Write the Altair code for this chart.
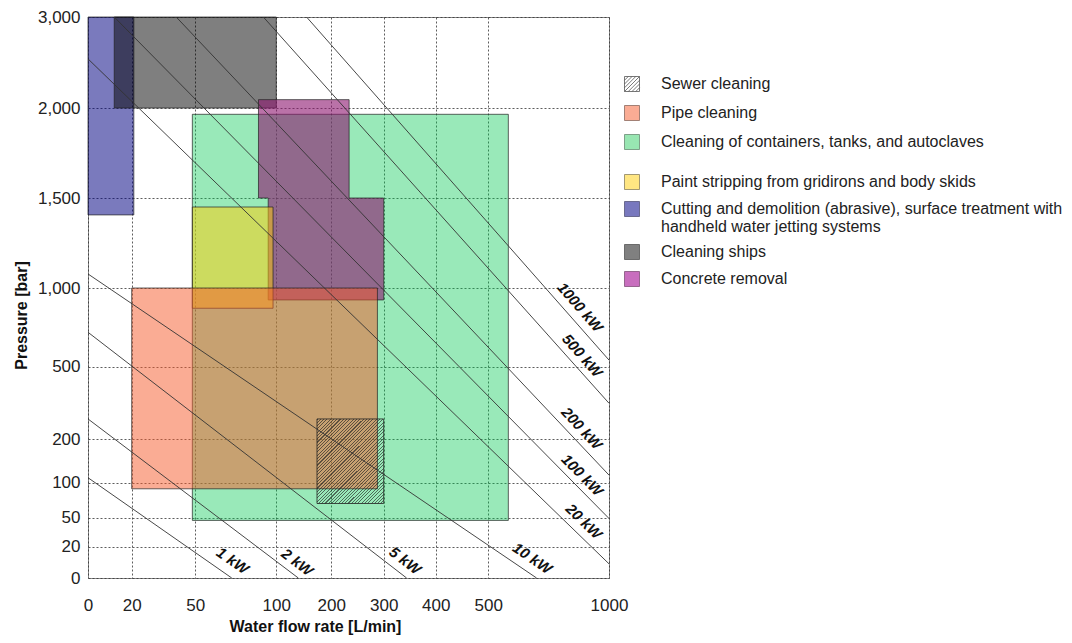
import altair as alt
import pandas as pd

FONT = "Liberation Sans"

# ---- axis ticks (nonlinear, piecewise scales) ----
X_TICKS = [0, 20, 50, 100, 200, 300, 400, 500, 1000]
X_RANGE = [0, 43.7, 107.3, 188.3, 243.3, 295.7, 347.7, 400.3, 521]
Y_TICKS = [0, 20, 50, 100, 200, 500, 1000, 1500, 2000, 3000]
Y_RANGE = [561, 529.5, 500.5, 465.5, 422, 349.5, 271, 181, 91, 0]

# ---- categories ----
SEWER = "Sewer cleaning"
PIPE = "Pipe cleaning"
CONT = "Cleaning of containers, tanks, and autoclaves"
PAINT = "Paint stripping from gridirons and body skids"
CUT = "Cutting and demolition (abrasive), surface treatment with\nhandheld water jetting systems"
SHIPS = "Cleaning ships"
CONC = "Concrete removal"

# ---- rectangular regions (flow L/min, pressure bar) ----
rect_a_names = [CONT, CUT, SHIPS]
rect_a_qmin = [48.6, 0, 12]
rect_a_qmax = [583, 21, 100]
rect_a_pmin = [47, 1406, 2000]
rect_a_pmax = [1965, 3000, 3000]
rect_a_color = ["#00c850", "#000080", "#000000"]
rect_a_alpha = [0.4, 0.52, 0.5]

# concrete removal: two filled parts + stepped outline
conc_qmin = [89, 95]
conc_qmax = [234, 300]
conc_pmin = [1500, 924]
conc_pmax = [2092, 1500]
conc_outline_q = [89, 234, 234, 300, 300, 95, 95, 89, 89]
conc_outline_p = [2092, 2092, 1500, 1500, 924, 924, 1500, 1500, 2092]

rect_b_names = [PAINT, PIPE]
rect_b_qmin = [48.6, 20]
rect_b_qmax = [98, 288]
rect_b_pmin = [871, 91]
rect_b_pmax = [1450, 1000]
rect_b_color = ["#ffcd05", "#f55929"]
rect_b_alpha = [0.5, 0.5]

sewer_qmin = [174]
sewer_qmax = [300]
sewer_pmin = [70]
sewer_pmax = [283]

# ---- power lines ----
kw_labels = ["1 kW", "2 kW", "5 kW", "10 kW", "20 kW", "100 kW", "200 kW", "500 kW", "1000 kW"]
line_q0 = [0, 0, 0, 0, 0, 12, 41, 92, 155]
line_p0 = [111, 283, 718, 1078, 2540, 3000, 3000, 3000, 3000]
line_q1 = [72.5, 140, 344, 700, 1000, 1000, 1000, 1000, 1000]
line_p1 = [0, 0, 0, 0, 9, 49, 117, 348, 541]
label_q = [73, 138, 341, 682, 896, 889, 887, 889, 880]
label_p = [11, 10, 11, 12.5, 46, 117, 244, 569, 877]
label_angle = [35, 37, 37.5, 34, 44, 45.5, 47, 48.5, 49]

# ---- legends ----
legend1_names = [SEWER, PIPE, CONT]
legend1_colors = ["#ffffff", "#faac94", "#98e6b2"]
legend1_edges = ["#555555", "#8a6a60", "#6a8a75"]
legend2_names = [PAINT, CUT, SHIPS, CONC]
legend2_colors = ["#ffe682", "#7878be", "#808080", "#c86ebe"]
legend2_edges = ["#8a8060", "#55557a", "#555555", "#805078"]
HATCH = ("M-1,-1H1V1H-1Z M-1,-0.5L-0.5,-1 M-1,0L0,-1 M-1,0.5L0.5,-1 M-1,1L1,-1 "
         "M-0.5,1L1,-0.5 M0,1L1,0 M0.5,1L1,0.5")

rect_a = pd.DataFrame(dict(name=rect_a_names, q0=rect_a_qmin, q1=rect_a_qmax,
                           p0=rect_a_pmin, p1=rect_a_pmax, col=rect_a_color, op=rect_a_alpha))
rect_b = pd.DataFrame(dict(name=rect_b_names, q0=rect_b_qmin, q1=rect_b_qmax,
                           p0=rect_b_pmin, p1=rect_b_pmax, col=rect_b_color, op=rect_b_alpha))
conc_parts = pd.DataFrame(dict(q0=conc_qmin, q1=conc_qmax, p0=conc_pmin, p1=conc_pmax))
conc_line = pd.DataFrame(dict(q=conc_outline_q, p=conc_outline_p,
                              idx=list(range(len(conc_outline_q)))))
sewer = pd.DataFrame(dict(q0=sewer_qmin, q1=sewer_qmax, p0=sewer_pmin, p1=sewer_pmax))
lines = pd.DataFrame(dict(kw=kw_labels, q0=line_q0, p0=line_p0, q1=line_q1, p1=line_p1))
labels = pd.DataFrame(dict(kw=kw_labels, q=label_q, p=label_p, ang=label_angle))
leg1 = pd.DataFrame(dict(name=legend1_names, q=[174, 20, 48.6], p=[70, 91, 47]))
leg2 = pd.DataFrame(dict(name=legend2_names, q=[48.6, 0, 12, 95], p=[871, 1406, 2000, 924]))


def xs():
    return alt.Scale(domain=X_TICKS, range=X_RANGE, nice=False, zero=False)


def ys():
    return alt.Scale(domain=Y_TICKS, range=Y_RANGE, nice=False, zero=False)


x_axis = alt.Axis(title="Water flow rate [L/min]", values=X_TICKS, format="d",
                  labelFont=FONT, labelFontSize=17, labelColor="#222", labelPadding=19,
                  labelFlush=False, labelOverlap=False, ticks=False, tickSize=0, domain=False,
                  grid=True, gridColor="#333", gridDash=[2, 2], gridWidth=0.8,
                  titleFont=FONT, titleFontSize=16, titleFontWeight="bold", titleColor="#111",
                  titlePadding=5, titleX=227)
y_axis = alt.Axis(title="Pressure [bar]", values=Y_TICKS, format=",d",
                  labelFont=FONT, labelFontSize=17, labelColor="#222", labelPadding=8,
                  labelFlush=False, labelOverlap=False, ticks=False, tickSize=0, domain=False,
                  grid=True, gridColor="#333", gridDash=[2, 2], gridWidth=0.8,
                  titleFont=FONT, titleFontSize=16, titleFontWeight="bold", titleColor="#111",
                  titlePadding=8, titleY=298)

X = lambda f: alt.X(f, type="quantitative", scale=xs(), axis=x_axis)
Y = lambda f: alt.Y(f, type="quantitative", scale=ys(), axis=y_axis)

EDGE = dict(stroke="#222", strokeWidth=1, strokeOpacity=0.7)

rects_a = alt.Chart(rect_a).mark_rect(**EDGE).encode(
    x=X("q0"), x2="q1", y=Y("p0"), y2="p1",
    fill=alt.Fill("col:N", scale=None), fillOpacity=alt.FillOpacity("op:Q", scale=None))

conc_fill = alt.Chart(conc_parts).mark_rect(fill="#8c146e", fillOpacity=0.6).encode(
    x=X("q0"), x2="q1", y=Y("p0"), y2="p1")

conc_edge = alt.Chart(conc_line).mark_line(color="#222", strokeWidth=1, opacity=0.7).encode(
    x=X("q"), y=Y("p"), order=alt.Order("idx:Q"))

rects_b = alt.Chart(rect_b).mark_rect(**EDGE).encode(
    x=X("q0"), x2="q1", y=Y("p0"), y2="p1",
    fill=alt.Fill("col:N", scale=None), fillOpacity=alt.FillOpacity("op:Q", scale=None))

N = 46
stops = []
for k in range(N):
    stops.append({"offset": k / N, "color": "rgba(30,30,30,0.62)"})
    stops.append({"offset": (k + 0.33) / N, "color": "rgba(30,30,30,0.62)"})
    stops.append({"offset": (k + 0.33) / N, "color": "rgba(0,0,0,0)"})
    stops.append({"offset": (k + 1) / N, "color": "rgba(0,0,0,0)"})
hatch_fill = {"gradient": "linear", "x1": 0, "y1": 0, "x2": 0.869, "y2": 1.103, "stops": stops}

sewer_rect = alt.Chart(sewer).mark_rect(fill=hatch_fill, stroke="#222", strokeWidth=1,
                                        strokeOpacity=0.8).encode(
    x=X("q0"), x2="q1", y=Y("p0"), y2="p1")

power_lines = alt.Chart(lines).mark_rule(color="#333", strokeWidth=0.9).encode(
    x=X("q0"), y=Y("p0"), x2="q1", y2="p1")

power_text = alt.Chart(labels).mark_text(font=FONT, fontSize=15, fontWeight="bold",
                                         fontStyle="italic", color="#111",
                                         align="center", baseline="middle").encode(
    x=X("q"), y=Y("p"), text="kw:N", angle=alt.Angle("ang:Q", scale=None))

leg_common = dict(title=None, orient="none", legendX=536, symbolSize=225,
                  symbolStrokeWidth=0.8, symbolOpacity=1,
                  labelFont=FONT, labelFontSize=16, labelColor="#222", labelOffset=21,
                  labelLimit=600, padding=0, offset=0)

legend1 = alt.Legend(legendY=59, rowPadding=9, **leg_common)
legend2 = alt.Legend(legendY=157, rowPadding=7, symbolType="square",
                     labelExpr="split(datum.label, '\\n')", **leg_common)

leg_layer1 = alt.Chart(leg1).mark_point(filled=True, opacity=0).encode(
    x=X("q"), y=Y("p"),
    fill=alt.Fill("name:N", scale=alt.Scale(domain=legend1_names, range=legend1_colors),
                  legend=legend1),
    stroke=alt.Stroke("name:N", scale=alt.Scale(domain=legend1_names, range=legend1_edges),
                      legend=legend1),
    shape=alt.Shape("name:N", scale=alt.Scale(domain=legend1_names,
                                              range=[HATCH, "square", "square"]),
                    legend=legend1))

leg_layer2 = alt.Chart(leg2).mark_point(filled=True, opacity=0).encode(
    x=X("q"), y=Y("p"),
    fill=alt.Fill("name:N", scale=alt.Scale(domain=legend2_names, range=legend2_colors),
                  legend=legend2),
    stroke=alt.Stroke("name:N", scale=alt.Scale(domain=legend2_names, range=legend2_edges),
                      legend=legend2))

chart = alt.layer(rects_a, conc_fill, conc_edge, rects_b, sewer_rect, power_lines, power_text,
                  leg_layer1, leg_layer2).resolve_scale(
    fill="independent", shape="independent", stroke="independent"
).properties(
    width=521, height=561,
    padding={"left": 80, "top": 9, "right": 455, "bottom": 57},
    autosize=alt.AutoSizeParams(type="none"),
    background="white",
).configure_view(stroke="#8a8a8a", strokeWidth=1)

chart.save("out.html", embed_options={"renderer": "svg", "actions": False})
